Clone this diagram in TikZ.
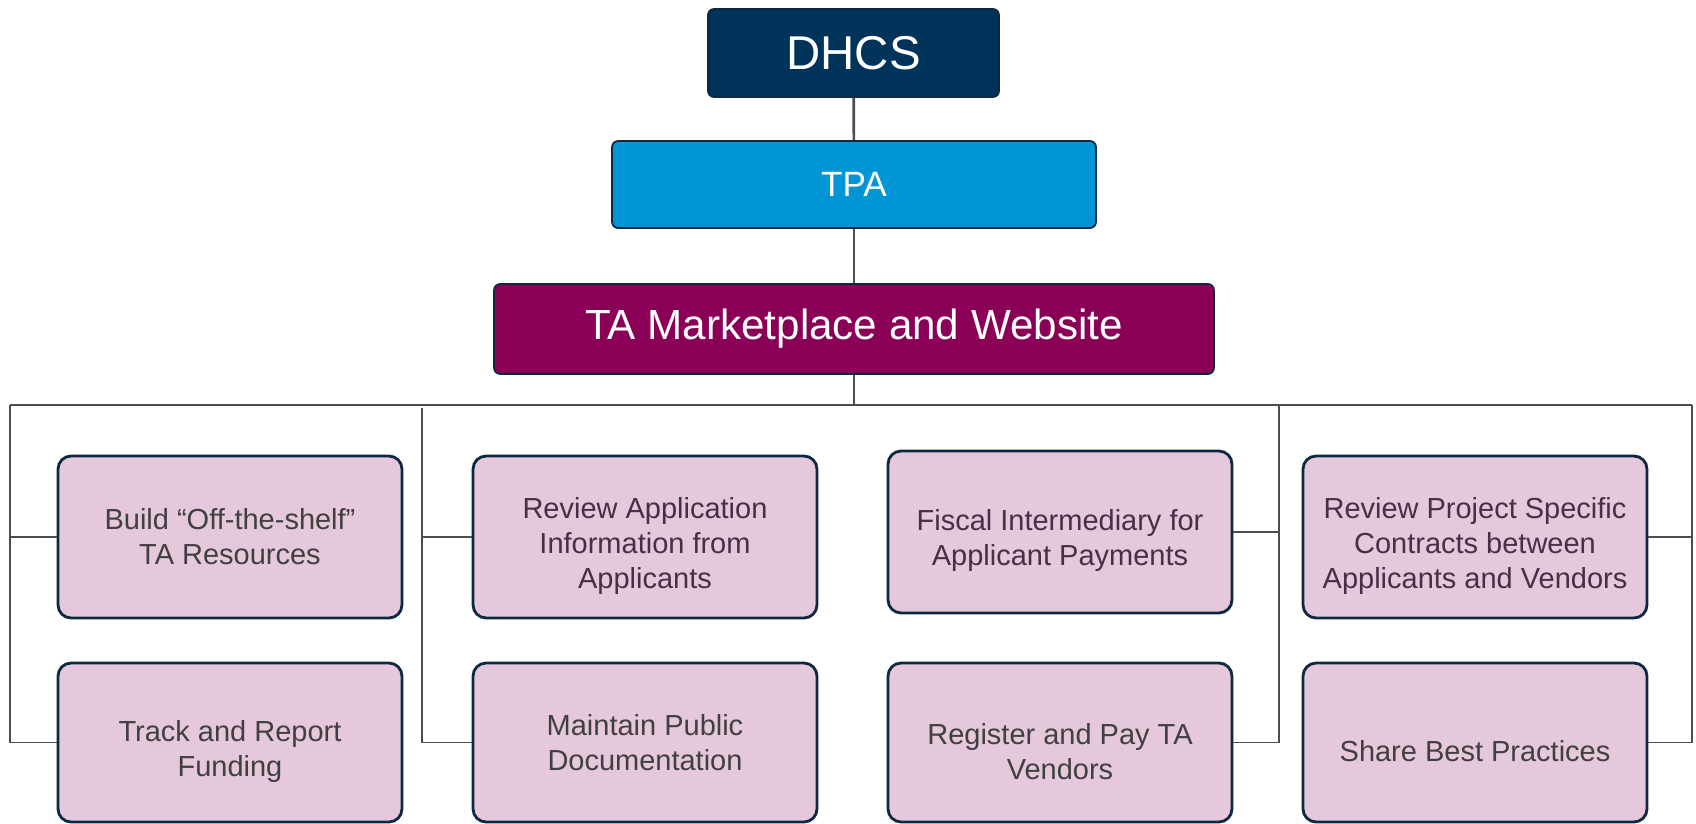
\documentclass[tikz,border=0pt]{standalone}
\usepackage{fontspec}
\setmainfont{Liberation Sans}
\usepackage{xcolor}
\usetikzlibrary{calc}

\definecolor{navy}{HTML}{003359}
\definecolor{tpablue}{HTML}{0096D6}
\definecolor{plum}{HTML}{8B0057}
\definecolor{boxline}{HTML}{0E2841}
\definecolor{taskpink}{HTML}{E6C8DC}
\definecolor{taskgray}{HTML}{404040}
\definecolor{taskplum}{HTML}{4A2D46}
\definecolor{linegray}{HTML}{4D4D4D}

\newcommand{\lift}{\rule{0pt}{22pt}}

\begin{document}
\begin{tikzpicture}[x=0.02cm, y=-0.02cm]
	\tikzstyle{head} = [draw=boxline, line width=1pt, rounded corners=0.12cm, text=white, align=center, inner sep=0pt]
	\tikzstyle{task} = [draw=boxline, line width=1.6pt, rounded corners=0.26cm, fill=taskpink, minimum width=6.88cm, minimum height=3.24cm, align=center, inner sep=0pt, font=\fontsize{16.5}{20}\selectfont, text=taskgray]
	\tikzstyle{low} = [minimum height=3.18cm]
	\tikzstyle{link} = [draw=linegray, line width=1.1pt]
	\tikzstyle{stem} = [draw=linegray, line width=1.5pt]

	\useasboundingbox (0,0) rectangle (1696,824);

	\node[head, fill=navy, minimum width=5.82cm, minimum height=1.76cm, font=\fontsize{27}{32}\selectfont]	at (853.5, 53)	(dhcs)	{DHCS};
	\node[head, fill=tpablue, minimum width=9.68cm, minimum height=1.74cm, font=\fontsize{20}{24}\selectfont]	at (854, 184.5)	(tpa)	{TPA};
	\node[head, fill=plum, minimum width=14.4cm, minimum height=1.8cm, font=\fontsize{24}{28}\selectfont]	at (854, 329)	(mkt)	{TA Marketplace and Website};

	\node[task]	at (230, 537)	(build)	{Build “Off-the-shelf”\\TA Resources};
	\node[task, text=taskplum]	at (645, 537)	(review)	{\lift Review Application\\Information from\\Applicants};
	\node[task, text=taskplum]	at (1060, 532)	(fiscal)	{\lift Fiscal Intermediary for\\Applicant Payments};
	\node[task, text=taskplum]	at (1475, 537)	(contracts)	{\lift Review Project Specific\\Contracts between\\Applicants and Vendors};

	\node[task, low]	at (230, 742.5)	(track)	{\lift Track and Report\\Funding};
	\node[task, low]	at (645, 742.5)	(maintain)	{Maintain Public\\Documentation};
	\node[task, low]	at (1060, 742.5)	(register)	{\lift Register and Pay TA\\Vendors};
	\node[task, low]	at (1475, 742.5)	(share)	{\lift Share Best Practices};

	\coordinate (busL) at (10, 405);
	\coordinate (busR) at (1692, 405);
	\coordinate (colB) at (422, 408);
	\coordinate (colC) at (1279, 405);

	\draw [stem] (dhcs) -- (tpa);
	\draw [stem] (tpa) -- (mkt);
	\draw [link] (mkt.south) -- (mkt.south |- busL);
	\draw [link] (busL) -- (busR);

	\draw [link] (busL) |- (build.west);
	\draw [link] (busL) |- (track.west);
	\draw [link] (colB) |- (review.west);
	\draw [link] (colB) |- (maintain.west);
	\draw [link] (colC) |- (fiscal.east);
	\draw [link] (colC) |- (register.east);
	\draw [link] (busR) |- (contracts.east);
	\draw [link] (busR) |- (share.east);
\end{tikzpicture}
\end{document}
